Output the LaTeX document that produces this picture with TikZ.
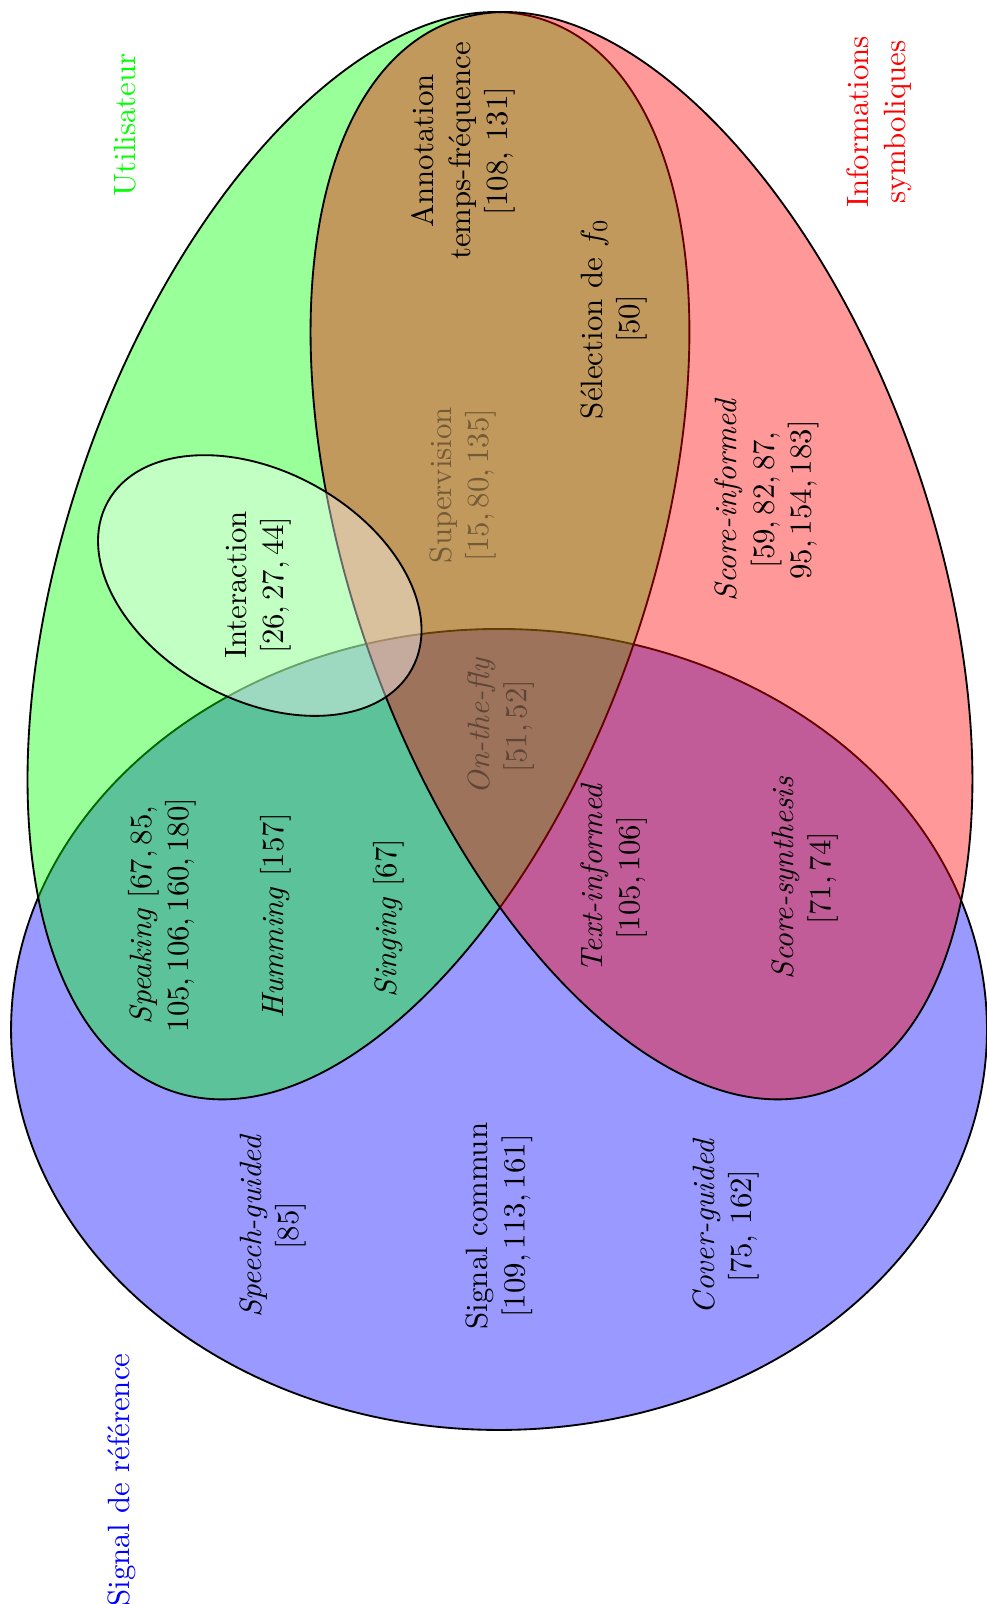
\documentclass[tikz,border=0pt]{standalone}
\usepackage{fontspec}
\usepackage{amsmath}
\usepackage{tikz}
\tikzset{
  venn/.style={draw=black, semithick, fill opacity=0.4},
  lab/.style={rotate=90, align=center, text=black},
  faint/.style={lab, text opacity=0.4},
  setname/.style={rotate=90, align=center},
}

\begin{document}
\begin{tikzpicture}
  \useasboundingbox (0,0) rectangle (11.25,-18.283);
  \coordinate (B) at (5.688,-11.734);
  \coordinate (G) at (4.086,-6.334);
  \coordinate (R) at (7.312,-6.334);
  \coordinate (I) at (2.961,-6.674);

  % the three sets, then the interaction
  \draw[venn, fill=blue] (B) ellipse [x radius=5.562, y radius=4.565];
  \draw[venn, fill=green] (G) ellipse [x radius=6.463, y radius=3.294, rotate=70.7];
  \draw[venn, fill=red] (R) ellipse [x radius=6.463, y radius=3.294, rotate=109.3];
  \draw[venn, fill=white] (I) ellipse [x radius=1.978, y radius=1.301, rotate=-28.8];

  \node[setname, text=green] (user) at (1.425,-1.425) {Utilisateur};
  \node[setname, text=red] (symb) at (10.019,-1.391) {Informations\\symboliques};
  \node[setname, text=blue] (ref) at (1.391,-16.869) {Signal de référence};

  \node[lab] (annot) at (5.277,-1.721) {Annotation\\temps-fréquence\\{[108, 131]}};
  \node[lab] (fzero) at (6.998,-3.636) {Sélection de $f_0$\\{[50]}};
  \node[faint] (superv) at (5.272,-5.528) {Supervision\\$[15, 80, 135]$};
  \node[lab] (inter) at (2.941,-6.668) {Interaction\\$[26, 27, 44]$};
  \node[faint] (onfly) at (5.710,-8.275) {\emph{On-the-fly}\\$[51, 52]$};
  \node[lab] (scoreinf) at (8.742,-5.699) {\emph{Score-informed}\\$[59, 82, 87,$\\$95, 154, 183]$};

  \node[lab] (speak) at (1.846,-10.429) {\emph{Speaking} $[67, 85,$\\$105, 106, 160, 180]$};
  \node[lab] (hum) at (3.146,-10.441) {\emph{Humming} [157]};
  \node[lab] (sing) at (4.434,-10.463) {\emph{Singing} [67]};
  \node[lab] (textinf) at (6.998,-10.007) {\emph{Text-informed}\\$[105, 106]$};
  \node[lab] (scoresyn) at (9.175,-10.007) {\emph{Score-synthesis}\\$[71, 74]$};

  \node[lab] (speech) at (3.112,-13.974) {\emph{Speech-guided}\\{[85]}};
  \node[lab] (common) at (5.688,-13.974) {Signal commun\\$[109, 113, 161]$};
  \node[lab] (cover) at (8.275,-13.974) {\emph{Cover-guided}\\{[75, 162]}};
\end{tikzpicture}
\end{document}
